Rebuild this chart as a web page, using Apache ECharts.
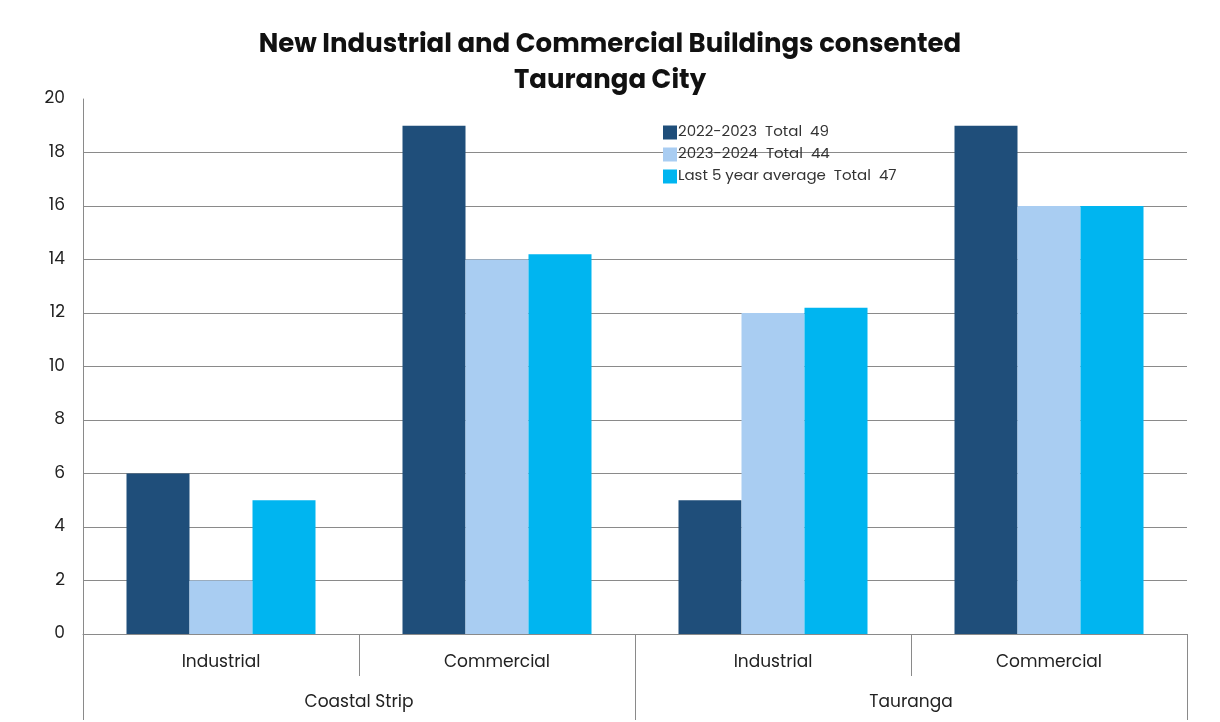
<!DOCTYPE html>
<html>
<head>
<meta charset="utf-8">
<script src="https://cdn.jsdelivr.net/npm/echarts@6/dist/echarts.min.js"></script>
<style>
html,body{margin:0;padding:0;background:#fff;}
#chart{width:1220px;height:722px;}
</style>
</head>
<body>
<div id="chart"></div>
<script>
const titleText = 'New Industrial and Commercial Buildings consented\nTauranga City';
const categories = ['Industrial', 'Commercial', 'Industrial', 'Commercial'];
const regions = ['Coastal Strip', 'Tauranga'];
const seriesNames = ['2022-2023  Total  49', '2023-2024  Total  44', 'Last 5 year average  Total  47'];
const values2223 = [6, 19, 5, 19];
const values2324 = [2, 14, 12, 16];
const valuesAvg = [5, 14.2, 12.2, 16];
const colors = ['#1F4E7A', '#A9CDF2', '#00B5F0'];

const chart = echarts.init(document.getElementById('chart'));
const font = 'Poppins, "Open Sans", Inter, sans-serif';
const gridColors = ['#8a8a8a','#8a8a8a','#8a8a8a','#8a8a8a','#8a8a8a','#8a8a8a','#8a8a8a','#8a8a8a','#8a8a8a','#8a8a8a','rgba(0,0,0,0)'];

chart.setOption({
  backgroundColor: '#fff',
  animation: false,
  title: {
    text: titleText,
    left: 'center',
    top: 22,
    textStyle: { fontFamily: font, fontWeight: 'bold', fontSize: 26, color: '#111', lineHeight: 36 }
  },
  legend: {
    orient: 'vertical',
    left: 658,
    top: 120,
    itemWidth: 14,
    itemHeight: 14,
    itemGap: 7,
    icon: 'rect',
    textStyle: { fontFamily: font, fontSize: 15, color: '#333', padding: [0,0,0,-4] },
    data: seriesNames
  },
  grid: { left: 83, right: 33, top: 99, bottom: 88, containLabel: false },
  xAxis: [
    {
      type: 'category',
      data: categories,
      position: 'bottom',
      axisLine: { show: true, lineStyle: { color: '#8a8a8a', width: 1 } },
      axisTick: { show: true, length: 42, lineStyle: { color: '#8a8a8a' } },
      axisLabel: { margin: 20, fontFamily: font, fontSize: 17, color: '#222' }
    },
    {
      type: 'category',
      data: regions,
      position: 'bottom',
      axisLine: { show: false },
      axisTick: { show: true, length: 86, lineStyle: { color: '#8a8a8a' } },
      axisLabel: { margin: 60, fontFamily: font, fontSize: 17, color: '#222' }
    }
  ],
  yAxis: {
    type: 'value',
    min: 0,
    max: 20,
    interval: 2,
    axisLine: { show: true, lineStyle: { color: '#8a8a8a' } },
    axisTick: { show: false },
    axisLabel: { margin: 18, fontFamily: font, fontSize: 17, color: '#222' },
    splitLine: { show: true, lineStyle: { color: gridColors, width: 1 } }
  },
  series: [
    { name: seriesNames[0], type: 'bar', data: values2223, barWidth: 63, barGap: '0%', itemStyle: { color: colors[0] } },
    { name: seriesNames[1], type: 'bar', data: values2324, barWidth: 63, barGap: '0%', itemStyle: { color: colors[1] } },
    { name: seriesNames[2], type: 'bar', data: valuesAvg, barWidth: 63, barGap: '0%', itemStyle: { color: colors[2] } }
  ]
});
</script>
</body>
</html>
